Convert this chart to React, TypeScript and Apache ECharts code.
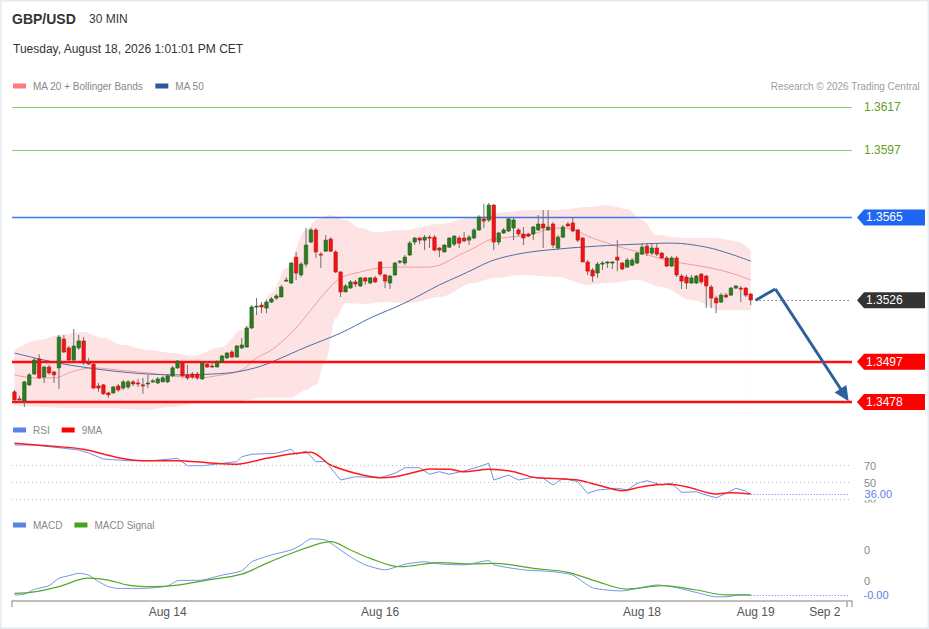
import React, { useEffect, useRef } from 'react';
import * as echarts from 'echarts';

const FONT = '"Liberation Sans", Arial, Helvetica, sans-serif';
const SLOT_COUNT = 170;
const slots = Array.from({ length: SLOT_COUNT }, (_, i) => `s${i}`);
const xTickIndex = [31, 74, 127, 150, 164];
const xTickText = ['Aug 14', 'Aug 16', 'Aug 18', 'Aug 19', 'Sep 2'];

// [open, close, low, high]
const candles: number[][] = [
  [1.34828, 1.3479, 1.34781, 1.34837], [1.34795, 1.3479, 1.34776, 1.34809], [1.34785, 1.34875, 1.34757, 1.3488],
  [1.34861, 1.34908, 1.34856, 1.34917], [1.34912, 1.34978, 1.34908, 1.34988], [1.34983, 1.34894, 1.34889, 1.35006],
  [1.34898, 1.34945, 1.3487, 1.3495], [1.34945, 1.34917, 1.34908, 1.34955], [1.34922, 1.34908, 1.3487, 1.34926],
  [1.34941, 1.35086, 1.34842, 1.35096], [1.35077, 1.35016, 1.35011, 1.35096], [1.35035, 1.34978, 1.34969, 1.35044],
  [1.34978, 1.35044, 1.34973, 1.35124], [1.35035, 1.35068, 1.35025, 1.35096], [1.35068, 1.34964, 1.34955, 1.35086],
  [1.34969, 1.34959, 1.34955, 1.34988], [1.34959, 1.34846, 1.34842, 1.34964], [1.34856, 1.34846, 1.34828, 1.3487],
  [1.34861, 1.34819, 1.34814, 1.34865], [1.34823, 1.34814, 1.348, 1.34828], [1.34823, 1.34851, 1.34819, 1.34856],
  [1.34856, 1.34837, 1.34828, 1.34865], [1.34846, 1.34875, 1.34837, 1.34884], [1.34851, 1.34875, 1.34842, 1.34884],
  [1.34875, 1.34865, 1.34856, 1.34884], [1.3487, 1.34865, 1.34851, 1.34889], [1.34861, 1.34856, 1.34819, 1.34894],
  [1.34865, 1.3487, 1.34846, 1.34908], [1.34875, 1.3488, 1.3487, 1.34889], [1.3487, 1.34889, 1.34865, 1.34898],
  [1.34875, 1.34894, 1.34875, 1.34903], [1.34875, 1.34903, 1.3487, 1.34912], [1.34903, 1.34941, 1.34898, 1.3495],
  [1.34941, 1.34973, 1.34936, 1.34978], [1.34969, 1.34903, 1.34898, 1.34973], [1.34908, 1.34894, 1.34884, 1.34955],
  [1.34912, 1.34898, 1.34889, 1.34922], [1.34912, 1.34894, 1.34884, 1.34922], [1.34889, 1.34964, 1.34884, 1.34969],
  [1.34959, 1.34945, 1.34941, 1.34973], [1.3495, 1.34945, 1.34941, 1.34969], [1.34945, 1.34969, 1.34945, 1.34978],
  [1.34969, 1.34997, 1.34969, 1.35002], [1.34988, 1.35011, 1.34983, 1.35016], [1.35016, 1.34992, 1.34988, 1.35025],
  [1.34992, 1.35044, 1.34992, 1.35049], [1.35035, 1.35049, 1.3503, 1.35082], [1.35039, 1.35129, 1.35039, 1.35138],
  [1.35129, 1.35228, 1.35124, 1.35237], [1.35228, 1.35232, 1.3519, 1.3527], [1.35237, 1.35228, 1.35199, 1.35251],
  [1.35223, 1.35251, 1.35199, 1.35261], [1.35251, 1.35266, 1.35247, 1.35275], [1.3527, 1.3528, 1.35261, 1.35289],
  [1.35275, 1.35322, 1.35275, 1.35332], [1.3535, 1.35355, 1.35346, 1.35369], [1.35341, 1.35435, 1.35336, 1.3544],
  [1.35463, 1.35388, 1.35355, 1.35487], [1.35379, 1.3543, 1.35369, 1.3544], [1.3543, 1.3552, 1.35416, 1.356],
  [1.35534, 1.35591, 1.35529, 1.356], [1.35591, 1.35487, 1.35459, 1.356], [1.35477, 1.35473, 1.35412, 1.35487],
  [1.35491, 1.35543, 1.35487, 1.35567], [1.35548, 1.35491, 1.35487, 1.35557], [1.35487, 1.35393, 1.35388, 1.35496],
  [1.35393, 1.35299, 1.35275, 1.35397], [1.35299, 1.35327, 1.35299, 1.35336], [1.35317, 1.35346, 1.35317, 1.35355],
  [1.35346, 1.35336, 1.35322, 1.35355], [1.35327, 1.35365, 1.35322, 1.35369], [1.35365, 1.3535, 1.35332, 1.35369],
  [1.35341, 1.35365, 1.35336, 1.35369], [1.35365, 1.35346, 1.35341, 1.35374], [1.3544, 1.35383, 1.35374, 1.35444],
  [1.35379, 1.3535, 1.35317, 1.35383], [1.35341, 1.35374, 1.35313, 1.35379], [1.35379, 1.35435, 1.35374, 1.3544],
  [1.3544, 1.35444, 1.3543, 1.35449], [1.35435, 1.35463, 1.35425, 1.35473], [1.35473, 1.35529, 1.35468, 1.35539],
  [1.35534, 1.35553, 1.3552, 1.35557], [1.35553, 1.35543, 1.35524, 1.35557], [1.35543, 1.35557, 1.35496, 1.35567],
  [1.35557, 1.35553, 1.35506, 1.35567], [1.35557, 1.35496, 1.35491, 1.35567], [1.35506, 1.35496, 1.35463, 1.3551],
  [1.35487, 1.3552, 1.35487, 1.35524], [1.3551, 1.35553, 1.35506, 1.35557], [1.35524, 1.35562, 1.35515, 1.35567],
  [1.35553, 1.35529, 1.35506, 1.35562], [1.35553, 1.35539, 1.35534, 1.35581], [1.35543, 1.35557, 1.3552, 1.35567],
  [1.35553, 1.35591, 1.35548, 1.356], [1.35591, 1.35652, 1.35586, 1.35661], [1.35643, 1.35633, 1.356, 1.35713],
  [1.35638, 1.35708, 1.35628, 1.35718], [1.35708, 1.35534, 1.35496, 1.35713], [1.35534, 1.35577, 1.3552, 1.35581],
  [1.35577, 1.35591, 1.35572, 1.356], [1.35586, 1.35643, 1.35581, 1.35652], [1.356, 1.35638, 1.35543, 1.35647],
  [1.35591, 1.35572, 1.35562, 1.356], [1.35572, 1.35553, 1.3552, 1.35605], [1.35572, 1.35562, 1.35557, 1.35577],
  [1.35572, 1.35605, 1.35543, 1.3561], [1.35591, 1.35619, 1.35586, 1.35661], [1.35619, 1.356, 1.35506, 1.35685],
  [1.35591, 1.35605, 1.35586, 1.35685], [1.35619, 1.3552, 1.35506, 1.35628], [1.35506, 1.35557, 1.35496, 1.35567],
  [1.35557, 1.35605, 1.35553, 1.35614], [1.35619, 1.3561, 1.35605, 1.35628], [1.35624, 1.35586, 1.35581, 1.35652],
  [1.35591, 1.35543, 1.35534, 1.35595], [1.35553, 1.3544, 1.3544, 1.35557], [1.3544, 1.35397, 1.35379, 1.35449],
  [1.35402, 1.35374, 1.35346, 1.35412], [1.35388, 1.3543, 1.35365, 1.3544], [1.3543, 1.35435, 1.35402, 1.35444],
  [1.35435, 1.3544, 1.35412, 1.35444], [1.35435, 1.3544, 1.35407, 1.35444], [1.35463, 1.35449, 1.35397, 1.35543],
  [1.35435, 1.35407, 1.35402, 1.3544], [1.35416, 1.35449, 1.35412, 1.35459], [1.35425, 1.35449, 1.35421, 1.35459],
  [1.35435, 1.35482, 1.3543, 1.35487], [1.35477, 1.3551, 1.35473, 1.35529], [1.35515, 1.35482, 1.35468, 1.35529],
  [1.35482, 1.35506, 1.35473, 1.35529], [1.35506, 1.35477, 1.35468, 1.35529], [1.35482, 1.35459, 1.35454, 1.35487],
  [1.35459, 1.35421, 1.35416, 1.35468], [1.35421, 1.35459, 1.35416, 1.35468], [1.35459, 1.35379, 1.35369, 1.35468],
  [1.35374, 1.3535, 1.35313, 1.35383], [1.35369, 1.35341, 1.35313, 1.35379], [1.35341, 1.35365, 1.35336, 1.35379],
  [1.35341, 1.35374, 1.35336, 1.35379], [1.35383, 1.35346, 1.35336, 1.35388], [1.35374, 1.35327, 1.35223, 1.35379],
  [1.35322, 1.3527, 1.35223, 1.35332], [1.3527, 1.35247, 1.35199, 1.3528], [1.35251, 1.35284, 1.35247, 1.35294],
  [1.35284, 1.35275, 1.3527, 1.35294], [1.35284, 1.35317, 1.3528, 1.35322], [1.35317, 1.35327, 1.35313, 1.35332],
  [1.35317, 1.35313, 1.35251, 1.35327], [1.35317, 1.35284, 1.35275, 1.35322], [1.35289, 1.35261, 1.35237, 1.35294],
];

const ma20Points = [
  [0, 1.34908], [4, 1.34894], [8, 1.34894], [12, 1.34926], [16, 1.34941], [21, 1.34931], [27, 1.34917],
  [34, 1.34898], [37, 1.34894], [42, 1.34908], [46, 1.34931], [49, 1.34988], [52, 1.35025], [56, 1.35105],
  [59, 1.35185], [63, 1.35299], [66, 1.35365], [70, 1.35393], [74, 1.35412], [79, 1.35416], [83, 1.35416],
  [86, 1.35425], [90, 1.35473], [93, 1.35506], [96, 1.35543], [100, 1.35557], [104, 1.35567], [110, 1.356],
  [113, 1.35595], [116, 1.35562], [120, 1.35529], [124, 1.35501], [127, 1.35482], [131, 1.35454],
  [135, 1.35435], [140, 1.35416], [145, 1.35388], [149, 1.35355],
];
const ma50Points = [
  [0, 1.35011], [5, 1.34983], [10, 1.34959], [15, 1.34941], [20, 1.34926], [27, 1.34912], [34, 1.34908],
  [40, 1.34912], [45, 1.34922], [50, 1.3495], [53, 1.34978], [59, 1.35039], [66, 1.35105], [72, 1.35176],
  [79, 1.35247], [86, 1.35332], [90, 1.35374], [93, 1.35407], [97, 1.35449], [103, 1.35482], [110, 1.35501],
  [118, 1.35515], [126, 1.35524], [133, 1.35529], [140, 1.3551], [145, 1.35477], [149, 1.35444],
];
const bbUpperPoints = [
  [0, 1.35025], [5, 1.35072], [9, 1.35096], [14, 1.3511], [18, 1.35082], [22, 1.35049], [27, 1.35025],
  [32, 1.35011], [36, 1.34997], [42, 1.35039], [46, 1.35119], [49, 1.35204], [52, 1.35294], [55, 1.35412],
  [59, 1.35591], [61, 1.35638], [64, 1.35661], [67, 1.35638], [70, 1.356], [73, 1.35581], [79, 1.35591],
  [86, 1.35619], [93, 1.35652], [99, 1.35675], [104, 1.35685], [110, 1.35685], [116, 1.35699], [120, 1.35708],
  [124, 1.3569], [127, 1.35638], [130, 1.35567], [135, 1.35553], [142, 1.35553], [146, 1.35539], [149, 1.35496],
];
const bbLowerPoints = [
  [0, 1.34766], [5, 1.34757], [12, 1.34752], [19, 1.34752], [26, 1.34742], [32, 1.34757], [37, 1.34776],
  [44, 1.34781], [50, 1.348], [56, 1.348], [59, 1.34837], [61, 1.34861], [63, 1.34978], [65, 1.35176],
  [67, 1.35247], [71, 1.35242], [75, 1.35251], [80, 1.35247], [86, 1.35275], [93, 1.35341], [97, 1.35365],
  [103, 1.35379], [110, 1.35369], [116, 1.35332], [120, 1.35341], [126, 1.35355], [131, 1.35322],
  [137, 1.35261], [143, 1.35213], [149, 1.35213],
];

const resistanceLevels = [1.3617, 1.3597];
const pivotLevel = 1.3565;
const supportLevels = [1.3497, 1.3478];
const lastPrice = 1.3526;
const lastIndex = 149;
const forecastPath = [[150, 1.3526], [154, 1.35313], [168, 1.34813]];

const rsiPoints = [
  [0, 94.6], [4, 94.6], [9, 91.4], [13, 88.7], [15, 85.1], [18, 78.0], [23, 76.0], [28, 76.0], [33, 78.8],
  [35, 70.0], [38, 70.0], [41, 72.0], [45, 74.8], [46, 80.7], [48, 83.6], [53, 84.8], [56, 89.5], [57, 83.6],
  [59, 87.5], [61, 74.8], [63, 74.8], [66, 53.0], [69, 56.9], [74, 55.7], [77, 61.0], [79, 67.6], [82, 67.6],
  [84, 59.8], [86, 62.9], [88, 59.8], [91, 63.7], [94, 68.8], [96, 72.9], [97, 53.0], [100, 58.9], [102, 53.0],
  [105, 56.2], [107, 55.0], [109, 47.0], [111, 55.0], [114, 51.0], [116, 37.1], [118, 41.1], [122, 43.1],
  [124, 41.1], [126, 49.0], [128, 52.1], [131, 47.0], [133, 49.0], [135, 38.3], [138, 39.0], [140, 35.1],
  [142, 31.9], [144, 37.1], [146, 43.1], [148, 39.9], [149, 36.0],
];
const rsiMaPoints = [
  [0, 96.7], [9, 92.6], [14, 89.5], [21, 79.5], [26, 76.0], [33, 76.0], [39, 73.6], [45, 71.7], [51, 78.8],
  [56, 83.9], [60, 86.0], [64, 70.8], [69, 61.0], [74, 55.7], [77, 56.9], [81, 62.1], [84, 66.1], [88, 65.7],
  [91, 62.9], [96, 65.7], [101, 62.9], [105, 56.2], [111, 54.2], [114, 53.0], [118, 47.0], [123, 40.2],
  [127, 45.0], [132, 47.9], [136, 45.0], [142, 36.3], [145, 37.9], [149, 36.3],
];
const rsiLevels = [70, 50, 30];
const rsiLast = 36.0;

const macdPoints = [
  [0, -0.00045], [2, -0.00043], [4, -0.00027], [7, -0.00015], [9, 0.00009], [11, 0.00017], [13, 0.00025],
  [15, 0.00019], [17, -0.00002], [19, -0.00018], [21, -0.00024], [26, -0.00024], [31, -0.00016], [33, 0.00001],
  [38, 0.00003], [42, 0.00019], [46, 0.00033], [48, 0.00062], [52, 0.00084], [56, 0.001], [58, 0.00116],
  [60, 0.00136], [63, 0.00132], [65, 0.00111], [68, 0.00078], [71, 0.00052], [75, 0.00036], [79, 0.00054],
  [83, 0.00062], [86, 0.00055], [91, 0.00052], [96, 0.00066], [97, 0.00052], [103, 0.00036], [109, 0.0003],
  [113, 0.00019], [117, -0.00022], [123, -0.00032], [126, -0.00024], [130, -0.00013], [133, -0.00018],
  [138, -0.00037], [142, -0.00051], [144, -0.00051], [147, -0.00045], [149, -0.00046],
];
const macdSignalPoints = [
  [0, -0.0004], [4, -0.00035], [9, -0.00018], [15, 0.00009], [19, 0.00003], [23, -0.00013], [28, -0.00018],
  [33, -0.00013], [39, 0.00003], [46, 0.00022], [51, 0.00057], [57, 0.00095], [62, 0.00122], [64, 0.00127],
  [68, 0.001], [72, 0.00073], [78, 0.00046], [86, 0.00059], [93, 0.00055], [97, 0.00057], [105, 0.00041],
  [112, 0.00028], [118, -0.00002], [124, -0.00026], [131, -0.00015], [138, -0.00029], [144, -0.00045],
  [149, -0.00045],
];
const macdTicks = [0.001, 0];
const macdLast = -0.00046;

const GRID_LEFT = 12;
const GRID_RIGHT = 77;

export default function App() {
  const ref = useRef<HTMLDivElement>(null);

  useEffect(() => {
    if (!ref.current) return;
    const chart = echarts.init(ref.current, null, { renderer: 'svg' });

    const hiddenX = (gi: number) => ({
      type: 'category', gridIndex: gi, data: slots, boundaryGap: true, show: false,
    });

    const legendBase = {
      icon: 'rect', itemWidth: 13, itemHeight: 5, itemGap: 12, selectedMode: false,
      textStyle: { color: '#888', fontSize: 10, fontFamily: FONT, padding: [0, 0, 0, 2] },
    };

    const option: any = {
      animation: false,
      textStyle: { fontFamily: FONT },
      title: [
        { text: 'GBP/USD', left: 7, top: 7, textStyle: { fontSize: 14, fontWeight: 'bold', color: '#333', fontFamily: FONT } },
        { text: '30 MIN', left: 84, top: 8, textStyle: { fontSize: 12, fontWeight: 'normal', color: '#333', fontFamily: FONT } },
        { text: 'Tuesday, August 18, 2026 1:01:01 PM CET', left: 8, top: 38, textStyle: { fontSize: 12, fontWeight: 'normal', color: '#333', fontFamily: FONT } },
        { text: 'Research © 2026 Trading Central', right: 4, top: 76, textStyle: { fontSize: 10, fontWeight: 'normal', color: '#a0a0a0', fontFamily: FONT } },
      ],
      legend: [
        { ...legendBase, data: ['MA 20 + Bollinger Bands', 'MA 50'], left: 8, top: 76 },
        { ...legendBase, data: ['RSI', '9MA'], left: 8, top: 420 },
        { ...legendBase, data: ['MACD', 'MACD Signal'], left: 8, top: 515 },
      ],
      grid: [
        { left: GRID_LEFT, right: GRID_RIGHT, top: 95, height: 320 },
        { left: GRID_LEFT, right: GRID_RIGHT, top: 440, height: 62 },
        { left: GRID_LEFT, right: GRID_RIGHT, top: 530, height: 71 },
      ],
      xAxis: [
        hiddenX(0),
        hiddenX(1),
        {
          type: 'category', gridIndex: 2, data: slots, boundaryGap: true,
          axisLine: { show: true, onZero: false, lineStyle: { color: '#aaaaaa', width: 1.5 } },
          axisTick: { show: true, interval: (i: number) => i === 0 || i === SLOT_COUNT - 1, length: 6, lineStyle: { color: '#aaaaaa', width: 1.5 } },
          axisLabel: {
            interval: (i: number) => xTickIndex.includes(i),
            formatter: (_v: string, i: number) => { const k = xTickIndex.indexOf(i); return k >= 0 ? xTickText[k] : ''; },
            color: '#555', fontSize: 12, margin: 5, fontFamily: FONT,
          },
          splitLine: { show: false },
        },
      ],
      yAxis: [
        { type: 'value', gridIndex: 0, min: 1.34719, max: 1.36227, show: false, splitLine: { show: false } },
        { type: 'value', gridIndex: 1, min: 26.8, max: 100.6, show: false, splitLine: { show: false } },
        { type: 'value', gridIndex: 2, min: -0.000645, max: 0.001645, show: false, splitLine: { show: false } },
      ],
      series: [
        {
          name: 'bbUpper', type: 'line', xAxisIndex: 0, yAxisIndex: 0, data: bbUpperPoints,
          smooth: 0.35, smoothMonotone: 'x', symbol: 'none', silent: true, z: 1,
          lineStyle: { width: 0, opacity: 0 },
          areaStyle: { color: '#fde3e3', opacity: 1, origin: 'start' },
        },
        {
          name: 'bbLower', type: 'line', xAxisIndex: 0, yAxisIndex: 0, data: bbLowerPoints,
          smooth: 0.35, smoothMonotone: 'x', symbol: 'none', silent: true, z: 1,
          lineStyle: { width: 0, opacity: 0 },
          areaStyle: { color: '#ffffff', opacity: 1, origin: 'start' },
        },
        {
          name: 'MA 20 + Bollinger Bands', type: 'line', xAxisIndex: 0, yAxisIndex: 0, data: ma20Points,
          smooth: 0.35, symbol: 'none', silent: true, z: 2,
          itemStyle: { color: '#ff7b7b' }, lineStyle: { color: '#f59a9a', width: 1 },
        },
        {
          name: 'MA 50', type: 'line', xAxisIndex: 0, yAxisIndex: 0, data: ma50Points,
          smooth: 0.35, symbol: 'none', silent: true, z: 2,
          itemStyle: { color: '#2f5a99' }, lineStyle: { color: '#4d6ea6', width: 1 },
        },
        {
          name: 'levels', type: 'line', xAxisIndex: 0, yAxisIndex: 0, data: [[lastIndex, lastPrice]],
          symbol: 'none', silent: true, z: 3, lineStyle: { opacity: 0 },
          markLine: {
            silent: true, animation: false, symbol: ['none', 'none'], precision: 6, label: { show: false },
            data: [
              { yAxis: pivotLevel, lineStyle: { color: '#3b78e8', width: 1.4, type: 'solid' } },
              ...supportLevels.map((v) => ({ yAxis: v, lineStyle: { color: '#ff0d0d', width: 2.4, type: 'solid' } })),
              [
                { coord: [forecastPath[0][0], lastPrice], lineStyle: { color: '#444', width: 1, type: [1, 3] } },
                { coord: [SLOT_COUNT - 1, lastPrice] },
              ],
            ],
          },
        },
        {
          name: 'candles', type: 'custom', xAxisIndex: 0, yAxisIndex: 0, z: 5, silent: true,
          data: candles.map((c, i) => [i, c[0], c[1], c[2], c[3]]),
          encode: { x: 0, y: [1, 2, 3, 4] },
          renderItem: (_params: any, api: any) => {
            const i = api.value(0);
            const o = api.value(1), c = api.value(2), l = api.value(3), h = api.value(4);
            const pO = api.coord([i, o]);
            const pC = api.coord([i, c]);
            const pL = api.coord([i, l]);
            const pH = api.coord([i, h]);
            const w = api.size([1, 0])[0] * 0.7;
            const up = c >= o;
            const top = Math.min(pO[1], pC[1]);
            const bh = Math.max(Math.abs(pO[1] - pC[1]), 1);
            return {
              type: 'group',
              children: [
                { type: 'line', shape: { x1: pL[0], y1: pL[1], x2: pH[0], y2: pH[1] }, style: { stroke: '#6f6f6f', lineWidth: 1 } },
                {
                  type: 'rect', shape: { x: pO[0] - w / 2, y: top, width: w, height: bh },
                  style: { fill: up ? '#2b7d22' : '#ee1515', stroke: up ? '#1f5c18' : '#c81010', lineWidth: 0.6 },
                },
              ],
            };
          },
        },
        {
          name: 'forecast', type: 'line', xAxisIndex: 0, yAxisIndex: 0, data: [[lastIndex, lastPrice]],
          symbol: 'none', silent: true, z: 6, lineStyle: { opacity: 0 },
          markLine: {
            silent: true, animation: false, symbol: ['none', 'none'], precision: 6, label: { show: false },
            lineStyle: { color: '#2f609c', width: 3, type: 'solid' },
            data: [
              [{ coord: forecastPath[0], symbol: 'none' }, { coord: forecastPath[1], symbol: 'none' }],
              [{ coord: forecastPath[1], symbol: 'none' }, { coord: forecastPath[2], symbol: 'triangle', symbolSize: [14, 15] }],
            ],
          },
        },
        {
          name: 'RSI', type: 'line', xAxisIndex: 1, yAxisIndex: 1, data: rsiPoints,
          symbol: 'none', silent: true, z: 3,
          itemStyle: { color: '#5d82e3' }, lineStyle: { color: '#6f90e6', width: 1 },
          markLine: {
            silent: true, animation: false, symbol: ['none', 'none'], precision: 4,
            data: [
              ...rsiLevels.map((v) => ({
                yAxis: v, lineStyle: { color: '#bdbdbd', width: 1, type: [1, 3] },
                label: { show: true, position: 'end', formatter: String(v), color: '#888', fontSize: 11, distance: 12, fontFamily: FONT },
              })),
              [
                {
                  coord: [lastIndex, rsiLast], lineStyle: { color: '#5d82e3', width: 1, type: [1, 2] },
                  label: { show: true, position: 'end', formatter: rsiLast.toFixed(2), color: '#5d82e3', fontSize: 11, distance: 14, backgroundColor: '#fff', padding: [0, 1], fontFamily: FONT },
                },
                { coord: [SLOT_COUNT - 1, rsiLast] },
              ],
            ],
          },
        },
        {
          name: '9MA', type: 'line', xAxisIndex: 1, yAxisIndex: 1, data: rsiMaPoints,
          smooth: 0.3, symbol: 'none', silent: true, z: 4,
          itemStyle: { color: '#ff0000' }, lineStyle: { color: '#ff1a1a', width: 1.5 },
        },
        {
          name: 'MACD', type: 'line', xAxisIndex: 2, yAxisIndex: 2, data: macdPoints,
          smooth: 0.2, symbol: 'none', silent: true, z: 3,
          itemStyle: { color: '#5d82e3' }, lineStyle: { color: '#7294e6', width: 1 },
          markLine: {
            silent: true, animation: false, symbol: ['none', 'none'], precision: 8,
            data: [
              ...macdTicks.map((v) => ({
                yAxis: v, lineStyle: { color: 'rgba(255,255,255,0)', width: 1, type: 'solid' },
                label: { show: true, position: 'end', formatter: v.toFixed(0), color: '#888', fontSize: 11, distance: 12, fontFamily: FONT },
              })),
              [
                {
                  coord: [lastIndex, macdLast], lineStyle: { color: '#5d82e3', width: 1, type: [1, 2] },
                  label: { show: true, position: 'end', formatter: macdLast.toFixed(2), color: '#5d82e3', fontSize: 11, distance: 14, fontFamily: FONT },
                },
                { coord: [SLOT_COUNT - 1, macdLast] },
              ],
            ],
          },
        },
        {
          name: 'MACD Signal', type: 'line', xAxisIndex: 2, yAxisIndex: 2, data: macdSignalPoints,
          smooth: 0.35, symbol: 'none', silent: true, z: 4,
          itemStyle: { color: '#46a11c' }, lineStyle: { color: '#55a82a', width: 1.2 },
        },
      ],
    };

    chart.setOption(option);

    const yPix = (v: number) => chart.convertToPixel({ yAxisIndex: 0 }, v) as number;
    const elements: any[] = [
      { type: 'rect', shape: { x: 0.5, y: 0.5, width: 928, height: 628 }, style: { fill: 'none', stroke: '#e6ebef', lineWidth: 2 }, silent: true, z: 100 },
      { type: 'rect', shape: { x: 858, y: 502.5, width: 34, height: 9 }, style: { fill: '#fff' }, silent: true, z: 100 },
    ];
    resistanceLevels.forEach((v) => {
      const y = yPix(v);
      const yc = Math.round(y) + 0.5;
      elements.push({
        type: 'line', silent: true, z: 50,
        shape: { x1: GRID_LEFT, y1: yc, x2: 929 - GRID_RIGHT, y2: yc },
        style: { stroke: '#8fce6a', lineWidth: 1 },
      });
      elements.push({
        type: 'text', x: 864, y, silent: true, z: 101,
        style: { text: v.toFixed(4), fill: '#62a01e', fontSize: 12, fontFamily: FONT, verticalAlign: 'middle', textVerticalAlign: 'middle' },
      });
    });
    const tag = (v: number, color: string) => {
      const y = yPix(v);
      elements.push({
        type: 'polygon', silent: true, z: 101,
        shape: { points: [[857, y], [864, y - 8], [925, y - 8], [925, y + 8], [864, y + 8]] },
        style: { fill: color },
      });
      elements.push({
        type: 'text', x: 866, y, silent: true, z: 102,
        style: { text: v.toFixed(4), fill: '#fff', fontSize: 12, fontFamily: FONT, verticalAlign: 'middle', textVerticalAlign: 'middle' },
      });
    };
    tag(pivotLevel, '#1f66f2');
    tag(lastPrice, '#333333');
    supportLevels.forEach((v) => tag(v, '#ff0000'));

    chart.setOption({ graphic: { elements } });

    return () => chart.dispose();
  }, []);

  return <div ref={ref} style={{ position: 'absolute', left: 0, top: 0, width: 929, height: 629 }} />;
}
